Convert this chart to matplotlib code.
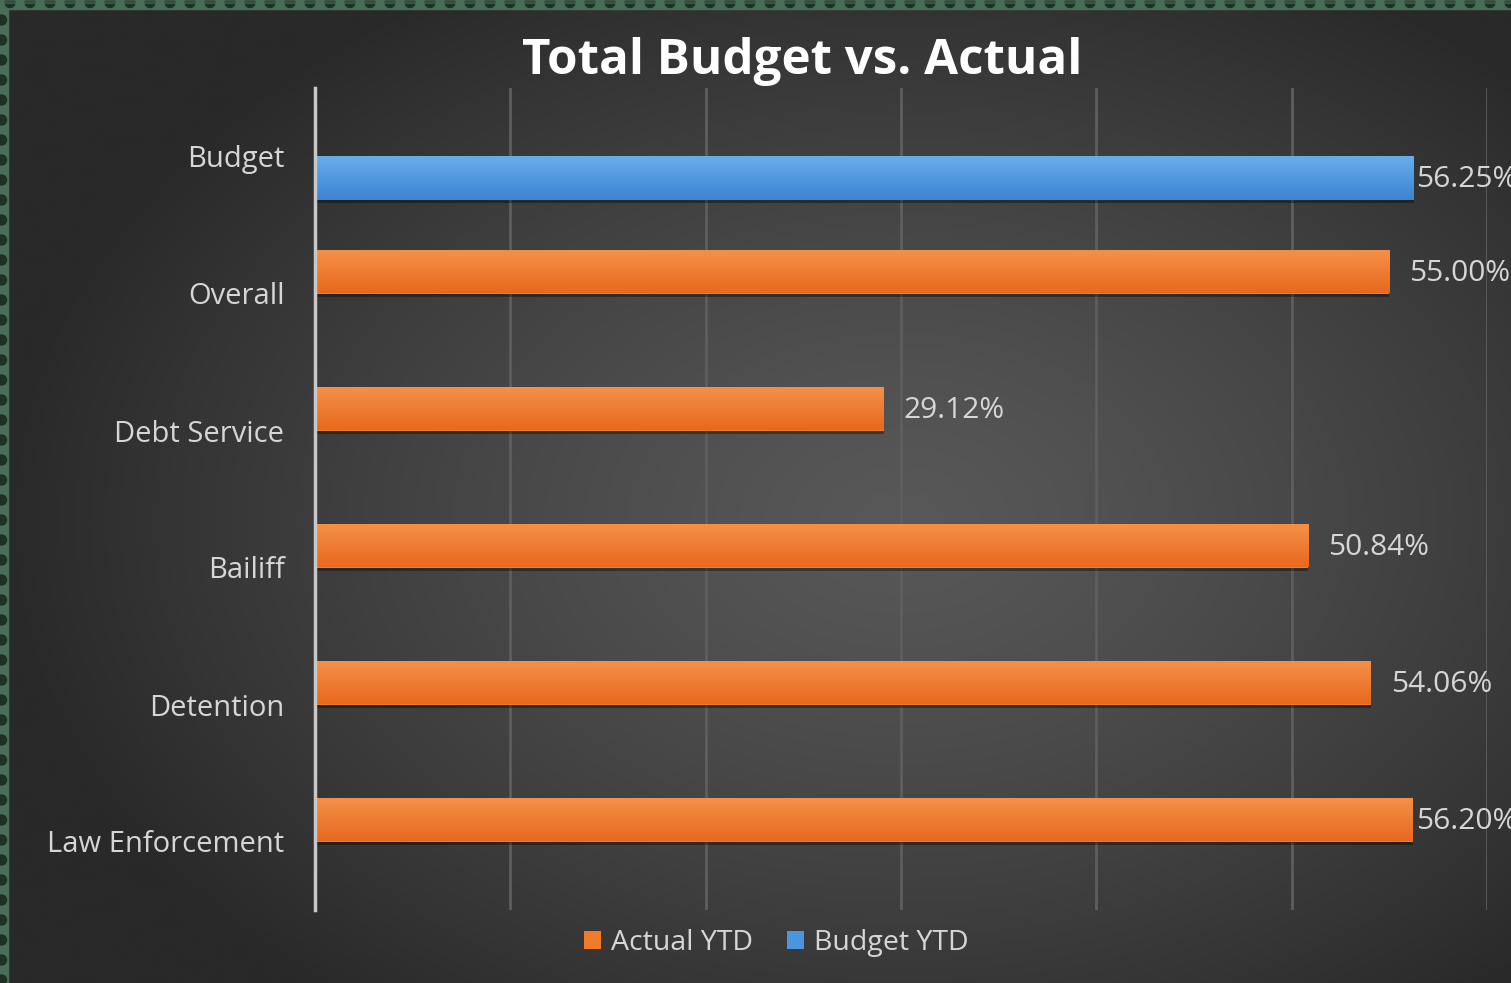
import numpy as np
import matplotlib
matplotlib.use("Agg")
import matplotlib.pyplot as plt
from matplotlib.patches import Rectangle, Circle

# ---- data ----
categories = ["Law Enforcement", "Detention", "Bailiff", "Debt Service", "Overall", "Budget"]
actual_ytd = [56.20, 54.06, 50.84, 29.12, 55.00, None]
budget_ytd = [None, None, None, None, None, 56.25]
series_names = ["Actual YTD", "Budget YTD"]
title = "Total Budget vs. Actual"

W, H = 1511, 983
DPI = 100
plt.rcParams['font.family'] = ['Open Sans', 'DejaVu Sans']
txt_col = '#d6d6d6'

fig = plt.figure(figsize=(W / DPI, H / DPI), dpi=DPI)

# ---- background with radial gradient ----
bg = fig.add_axes([0, 0, 1, 1])
bg.set_xlim(0, W)
bg.set_ylim(H, 0)
bg.axis('off')
yy, xx = np.mgrid[0:H:2, 0:W:2]
cx, cy = 900, 520
r = np.sqrt(((xx - cx) / 900.0) ** 2 + ((yy - cy) / 620.0) ** 2)
t = np.clip(r, 0, 1) ** 1.3
c_in = np.array([0x58, 0x58, 0x58]) / 255
c_out = np.array([0x29, 0x29, 0x29]) / 255
img = c_in[None, None, :] * (1 - t[..., None]) + c_out[None, None, :] * t[..., None]
bg.imshow(img, extent=[0, W, H, 0], aspect='auto', zorder=0)

# dotted green border (top and left)
green = '#4a6d57'
dark = '#1b3124'
bg.add_patch(Rectangle((0, 0), W, 9, color=green, zorder=1))
bg.add_patch(Rectangle((0, 0), 8, H, color=green, zorder=1))
for x in np.arange(10, W + 20, 20):
    bg.add_patch(Circle((x, 2.5), 5, color=dark, zorder=2))
for y in np.arange(20, H + 20, 20):
    bg.add_patch(Circle((1.5, y), 5, color=dark, zorder=2))
bg.add_patch(Rectangle((0, 0), W, 3, color=green, zorder=3, alpha=0.5))

# ---- main axes ----
left_px, right_px, top_px, bot_px = 315, 1487, 88, 910
ax = fig.add_axes([left_px / W, 1 - bot_px / H, (right_px - left_px) / W, (bot_px - top_px) / H])
ax.patch.set_alpha(0)

pos = np.arange(len(categories))
bh = 0.315
off = bh / 2

act_vals = [v if v is not None else 0 for v in actual_ytd]
bud_vals = [v if v is not None else 0 for v in budget_ytd]

# shadows
sh = 0.022
ax.barh(pos + off - sh, act_vals, height=bh, color='black', alpha=0.35, zorder=2, linewidth=0)
ax.barh(pos - off - sh, bud_vals, height=bh, color='black', alpha=0.35, zorder=2, linewidth=0)

orange = '#F07B2A'
blue = '#4A95DD'
b1 = ax.barh(pos + off, act_vals, height=bh, color=orange, zorder=3, linewidth=0, label=series_names[0])
b2 = ax.barh(pos - off, bud_vals, height=bh, color=blue, zorder=3, linewidth=0, label=series_names[1])

def grad(bars, ctop, cbot):
    g = np.linspace(0, 1, 64)[:, None]
    ct = np.array(matplotlib.colors.to_rgb(ctop))
    cb = np.array(matplotlib.colors.to_rgb(cbot))
    im = ct[None, None, :] * (1 - g[..., None]) + cb[None, None, :] * g[..., None]
    im = np.repeat(im, 2, axis=1)
    for p in bars.patches:
        if p.get_width() <= 0:
            continue
        x0, y0 = p.get_x(), p.get_y()
        w, h = p.get_width(), p.get_height()
        ii = ax.imshow(im, extent=[x0, x0 + w, y0, y0 + h], aspect='auto', zorder=4,
                       origin='upper')
        ii.set_clip_path(p)

grad(b1, '#F5914A', '#E8691E')
grad(b2, '#66AEEA', '#3C84D2')
ax.set_xlim(0, 60)
ax.set_ylim(-0.5, len(categories) - 0.5)

# gridlines
ax.set_xticks(np.arange(0, 61, 10))
ax.xaxis.grid(True, color='#5e5e5e', linewidth=2, zorder=1)
ax.set_axisbelow(True)
ax.tick_params(axis='x', length=0, labelbottom=False)
for s in ['top', 'right', 'bottom']:
    ax.spines[s].set_visible(False)
ax.spines['left'].set_color('#c8c8c8')
ax.spines['left'].set_linewidth(2.5)
ax.spines['left'].set_zorder(6)

ax.set_yticks(pos)
ax.set_yticklabels(categories, fontsize=21, color=txt_col)
ax.tick_params(axis='y', length=0, pad=22)

# value labels
px_per_unit = (right_px - left_px) / 60.0
gap = 20 / px_per_unit
xmax_lab = (1416 - left_px) / px_per_unit
for i, v in enumerate(actual_ytd):
    if v is not None:
        ax.text(min(v + gap, xmax_lab), pos[i] + off - 0.01, f"{v:.2f}%", va='center', ha='left',
                fontsize=21.5, color=txt_col, clip_on=False, zorder=7)
for i, v in enumerate(budget_ytd):
    if v is not None:
        ax.text(min(v + gap, xmax_lab), pos[i] - off - 0.01, f"{v:.2f}%", va='center', ha='left',
                fontsize=21.5, color=txt_col, clip_on=False, zorder=7)

# title
fig.text(802 / W, 1 - 61 / H, title, ha='center', va='center', fontsize=35.5,
         fontweight='bold', color='white')

# legend
leg = fig.legend(handles=[b1, b2], labels=series_names, loc='center',
                 bbox_to_anchor=(776 / W, 1 - 943 / H), ncol=2, frameon=False,
                 fontsize=20.5, labelcolor=txt_col, handlelength=0.6, handleheight=0.6,
                 handletextpad=0.35, columnspacing=1.2)

fig.savefig("out.png", dpi=DPI)
